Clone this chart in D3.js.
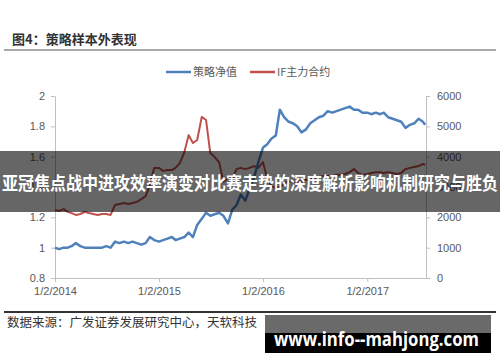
<!DOCTYPE html>
<html>
<head>
<meta charset="utf-8">
<script src="https://cdn.jsdelivr.net/npm/d3@7"></script>
<style>
  body { margin: 0; background: #fff; }
  svg { display: block; }
</style>
</head>
<body>
<svg id="chart" width="500" height="362"></svg>
<script>
// semi-monthly sample dates
const dates = [
  "2014-01-02","2014-01-16","2014-02-01","2014-02-16","2014-03-01","2014-03-16",
  "2014-04-01","2014-04-16","2014-05-01","2014-05-16","2014-06-01","2014-06-16",
  "2014-07-01","2014-07-16","2014-08-01","2014-08-16","2014-09-01","2014-09-16",
  "2014-10-01","2014-10-16","2014-11-01","2014-11-16","2014-12-01","2014-12-16",
  "2015-01-02","2015-01-16","2015-02-01","2015-02-16","2015-03-01","2015-03-16",
  "2015-04-01","2015-04-16","2015-05-01","2015-05-16","2015-06-01","2015-06-16",
  "2015-07-01","2015-07-16","2015-08-01","2015-08-16","2015-09-01","2015-09-16",
  "2015-10-01","2015-10-16","2015-11-01","2015-11-16","2015-12-01","2015-12-16",
  "2016-01-02","2016-01-16","2016-02-01","2016-02-16","2016-03-01","2016-03-16",
  "2016-04-01","2016-04-16","2016-05-01","2016-05-16","2016-06-01","2016-06-16",
  "2016-07-01","2016-07-16","2016-08-01","2016-08-16","2016-09-01","2016-09-16",
  "2016-10-01","2016-10-16","2016-11-01","2016-11-16","2016-12-01","2016-12-16",
  "2017-01-02","2017-01-16","2017-02-01","2017-02-16","2017-03-01","2017-03-16",
  "2017-04-01","2017-04-16","2017-05-01","2017-05-16","2017-06-01","2017-06-16",
  "2017-07-01","2017-07-16","2017-07-24"
];

// 策略净值 (left axis)
const strategy = [
  1.00, 0.99, 1.00, 1.00, 1.01, 1.03, 1.01, 1.00, 1.00, 1.00, 1.00, 1.00,
  1.01, 1.00, 1.04, 1.03, 1.04, 1.03, 1.04, 1.03, 1.02, 1.03, 1.07, 1.05,
  1.04, 1.05, 1.06, 1.07, 1.05, 1.06, 1.07, 1.10, 1.07, 1.15, 1.19, 1.23,
  1.21, 1.22, 1.23, 1.21, 1.16, 1.25, 1.28, 1.35, 1.31, 1.39, 1.46, 1.56,
  1.66, 1.68, 1.72, 1.74, 1.91, 1.86, 1.83, 1.82, 1.80, 1.76, 1.78, 1.82,
  1.84, 1.86, 1.87, 1.90, 1.89, 1.90, 1.91, 1.92, 1.93, 1.91, 1.91, 1.89,
  1.89, 1.88, 1.89, 1.88, 1.89, 1.86, 1.85, 1.84, 1.83, 1.79, 1.81, 1.82,
  1.85, 1.83, 1.81
];

// IF主力合约 (right axis)
const ifMain = [
  2240, 2210, 2270, 2180, 2140, 2080, 2110, 2180, 2140, 2110, 2080, 2110,
  2110, 2080, 2410, 2440, 2470, 2440, 2470, 2510, 2600, 2700, 3070, 3630,
  3630, 3530, 3560, 3560, 3630, 3790, 4150, 4710, 4450, 4550, 5310, 5210,
  4120, 3990, 3820, 3170, 3300, 3260, 3590, 3630, 3590, 3630, 3690, 3630,
  3820, 3300, 3030, 2970, 3000, 3100, 3200, 3170, 3200, 3170, 3230, 3300,
  3300, 3330, 3360, 3360, 3360, 3400, 3400, 3430, 3490, 3590, 3460, 3400,
  3430, 3460, 3490, 3490, 3460, 3490, 3460, 3430, 3460, 3590, 3630, 3660,
  3690, 3760, 3730
];

const leftTicks = [0.8, 1, 1.2, 1.4, 1.6, 1.8, 2];
const rightTicks = [0, 1000, 2000, 3000, 4000, 5000, 6000];
const xTicks = ["2014-01-02", "2015-01-02", "2016-01-02", "2017-01-02"];

const seriesNames = ["策略净值", "IF主力合约"];
const seriesColors = ["#4F81BD", "#C0504D"];

const parse = d3.timeParse("%Y-%m-%d");
const svg = d3.select("#chart");
const axisFont = "'Liberation Sans', Arial, sans-serif";
const cjkFont = "'Noto Sans CJK SC', 'Noto Sans', sans-serif";

svg.append("rect").attr("width", 500).attr("height", 362).attr("fill", "#fff");

// title + rule
svg.append("text")
   .attr("x", 12).attr("y", 44)
   .attr("font-family", cjkFont).attr("font-size", 13).attr("font-weight", "bold")
   .attr("fill", "#333")
   .text("图4：策略样本外表现");
svg.append("line")
   .attr("x1", 4).attr("x2", 496).attr("y1", 50).attr("y2", 50)
   .attr("stroke", "#8c8c8c").attr("stroke-width", 1.5);

// scales
const x = d3.scaleTime()
    .domain([parse("2014-01-02"), parse("2017-07-27")])
    .range([55, 426]);
const yL = d3.scaleLinear().domain([0.8, 2]).range([278, 96]);
const yR = d3.scaleLinear().domain([0, 6000]).range([278, 96]);

function styleAxis(g){
    g.select(".domain").attr("stroke", "#bfbfbf");
    g.selectAll(".tick line").attr("stroke", "#bfbfbf");
    g.selectAll(".tick text")
     .attr("fill", "#595959")
     .attr("font-family", axisFont)
     .attr("font-size", 11);
}

svg.append("g")
   .attr("transform", "translate(55,0)")
   .call(d3.axisLeft(yL).tickValues(leftTicks).tickSize(4).tickSizeOuter(0)
           .tickPadding(6).tickFormat(d3.format("")))
   .call(styleAxis);

svg.append("g")
   .attr("transform", "translate(426,0)")
   .call(d3.axisRight(yR).tickValues(rightTicks).tickSize(4).tickSizeOuter(0)
           .tickPadding(7).tickFormat(d3.format("d")))
   .call(styleAxis);

svg.append("g")
   .attr("transform", "translate(0,278)")
   .call(d3.axisBottom(x).tickValues(xTicks.map(parse)).tickSize(4).tickSizeOuter(0)
           .tickPadding(5).tickFormat(d3.timeFormat("%-m/%-d/%Y")))
   .call(styleAxis);

// lines
const rows = dates.map((d, i) => ({date: parse(d), s: strategy[i], f: ifMain[i]}));

svg.append("path")
   .datum(rows)
   .attr("fill", "none")
   .attr("stroke", seriesColors[1])
   .attr("stroke-width", 2)
   .attr("stroke-linejoin", "round")
   .attr("d", d3.line().x(d => x(d.date)).y(d => yR(d.f)));

svg.append("path")
   .datum(rows)
   .attr("fill", "none")
   .attr("stroke", seriesColors[0])
   .attr("stroke-width", 2.5)
   .attr("stroke-linejoin", "round")
   .attr("d", d3.line().x(d => x(d.date)).y(d => yL(d.s)));

// legend
const legendX = [166, 250];
seriesNames.forEach(function(name, i){
    svg.append("line")
       .attr("x1", legendX[i]).attr("x2", legendX[i] + 25)
       .attr("y1", 72).attr("y2", 72)
       .attr("stroke", seriesColors[i]).attr("stroke-width", 2.5);
    svg.append("text")
       .attr("x", legendX[i] + 27).attr("y", 76)
       .attr("font-family", cjkFont).attr("font-size", 11)
       .attr("fill", "#595959")
       .text(name);
});

// bottom rule + source
svg.append("line")
   .attr("x1", 4).attr("x2", 496).attr("y1", 312).attr("y2", 312)
   .attr("stroke", "#333").attr("stroke-width", 2);
svg.append("text")
   .attr("x", 7).attr("y", 327)
   .attr("font-family", cjkFont).attr("font-size", 12.5)
   .attr("fill", "#333")
   .text("数据来源：广发证券发展研究中心，天软科技");

// overlay banner
svg.append("rect")
   .attr("x", 0).attr("y", 151).attr("width", 500).attr("height", 61)
   .attr("fill", "rgba(0,0,0,0.6)");
svg.append("text")
   .attr("x", 2).attr("y", 190)
   .attr("font-family", cjkFont).attr("font-size", 18).attr("font-weight", "bold")
   .attr("fill", "#fff")
   .attr("textLength", 496).attr("lengthAdjust", "spacingAndGlyphs")
   .text("亚冠焦点战中进攻效率演变对比赛走势的深度解析影响机制研究与胜负");

// watermark box
svg.append("rect")
   .attr("x", 265).attr("y", 315).attr("width", 226).attr("height", 18)
   .attr("fill", "#6a6a6a");
svg.append("rect")
   .attr("x", 265).attr("y", 333).attr("width", 226).attr("height", 20)
   .attr("fill", "#000");
svg.append("text")
   .attr("x", 274).attr("y", 346)
   .attr("font-family", "'Open Sans', 'DejaVu Sans', sans-serif")
   .attr("font-size", 19).attr("font-weight", "bold")
   .attr("fill", "#fff")
   .attr("textLength", 205).attr("lengthAdjust", "spacingAndGlyphs")
   .text("www.info--mahjong.com");
</script>
</body>
</html>
